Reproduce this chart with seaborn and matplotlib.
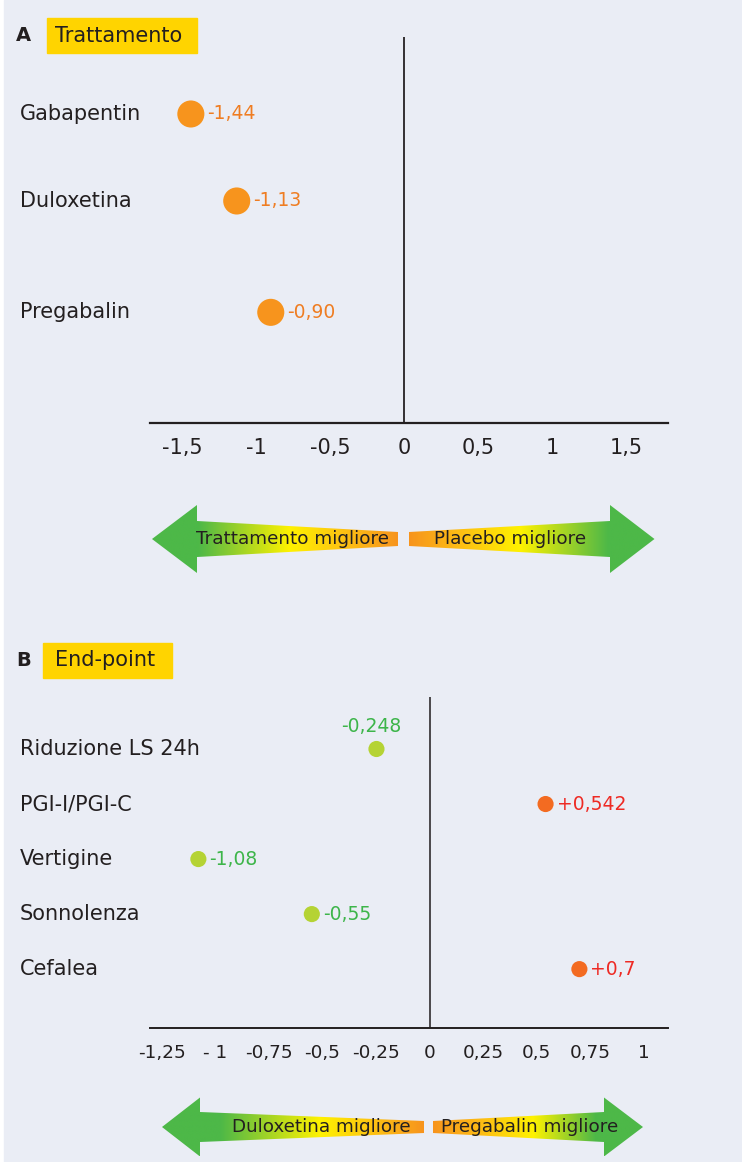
import matplotlib
matplotlib.use("Agg")
import matplotlib.pyplot as plt
from matplotlib.patches import Polygon, Rectangle
from matplotlib.colors import LinearSegmentedColormap
import numpy as np
import pandas as pd
import seaborn as sns

# Panel A: effect of each treatment versus placebo
treatments = ["Gabapentin", "Duloxetina", "Pregabalin"]
treatment_effect = [-1.44, -1.13, -0.90]
ticks_a = [-1.5, -1, -0.5, 0, 0.5, 1, 1.5]
tick_labels_a = ["-1,5", "-1", "-0,5", "0", "0,5", "1", "1,5"]

# Panel B: duloxetine versus pregabalin, by end-point
endpoints = ["Riduzione LS 24h", "PGI-I/PGI-C", "Vertigine", "Sonnolenza", "Cefalea"]
endpoint_diff = [-0.248, 0.542, -1.08, -0.55, 0.7]
ticks_b = [-1.25, -1, -0.75, -0.5, -0.25, 0, 0.25, 0.5, 0.75, 1]
tick_labels_b = ["-1,25", "- 1", "-0,75", "-0,5", "-0,25", "0", "0,25", "0,5", "0,75", "1"]

# vertical placement of the rows (row units)
row_pos_a = [0.0, 1.0, 2.28]
row_pos_b = [0, 1, 2, 3, 4]

W, H, DPI = 742, 1162, 100
BG = "#EAEDF5"
INK = "#231F20"
GREEN, YELLOW, GOLD, ORANGE = "#4DB848", "#FFF200", "#FDBE14", "#F7941D"

sns.set_style("white")
plt.rcParams["font.family"] = ["DejaVu Sans"]

fig = plt.figure(figsize=(W / DPI, H / DPI), dpi=DPI)
fig.patch.set_facecolor("white")


def frac_box(x0, y0, x1, y1):
    """Pixel box (top-left origin) -> figure fraction rect."""
    return [x0 / W, 1 - y1 / H, (x1 - x0) / W, (y1 - y0) / H]


# Full-page layer for background, headings and direction arrows (pixel units)
deco = fig.add_axes([0, 0, 1, 1])
deco.axis("off")
deco.add_patch(Rectangle((4, 0), W - 4, H, color=BG, zorder=0))


def heading(letter, title, y, box_x0, box_x1):
    deco.text(16, y, letter, fontsize=14, fontweight="bold", color=INK,
              ha="left", va="center", zorder=3)
    deco.add_patch(Rectangle((box_x0, y - 17.5), box_x1 - box_x0, 35,
                             color="#FFD400", zorder=2))
    deco.text(55, y, title, fontsize=15, color=INK, ha="left", va="center", zorder=3)


heading("A", "Trattamento", 35.5, 47, 197)
heading("B", "End-point", 660, 43, 172)


def half_arrow(tip, base, inner, cy, head_h, body_h0, body_h1, stops):
    pts = [(tip, cy), (base, cy - head_h / 2), (base, cy - body_h0 / 2),
           (inner, cy - body_h1 / 2), (inner, cy + body_h1 / 2),
           (base, cy + body_h0 / 2), (base, cy + head_h / 2)]
    poly = Polygon(pts, closed=True, facecolor="none", edgecolor="none")
    deco.add_patch(poly)
    x0, x1 = min(tip, inner), max(tip, inner)
    pos = [(x - x0) / (x1 - x0) for x, _ in stops]
    cmap = LinearSegmentedColormap.from_list("grad", list(zip(pos, [c for _, c in stops])))
    grad = np.linspace(0, 1, 512)[None, :]
    im = deco.imshow(grad, extent=(x0, x1, cy + head_h / 2, cy - head_h / 2),
                     aspect="auto", cmap=cmap, interpolation="bilinear", zorder=2)
    im.set_clip_path(poly)


# Arrows under panel A
half_arrow(152, 197, 398, 539, 68, 36, 14,
           [(152, GREEN), (198, GREEN), (290, YELLOW), (348, GOLD), (398, ORANGE)])
half_arrow(654.5, 610, 409, 539, 68, 36, 14,
           [(409, ORANGE), (460, GOLD), (520, YELLOW), (608, GREEN), (654.5, GREEN)])
deco.text(293, 539, "Trattamento migliore", fontsize=13.2, color=INK,
          ha="center", va="center", zorder=3)
deco.text(510, 539, "Placebo migliore", fontsize=13.2, color=INK,
          ha="center", va="center", zorder=3)

# Arrows under panel B
half_arrow(162, 200, 424, 1127, 59, 30, 12,
           [(162, GREEN), (220, GREEN), (320, YELLOW), (378, GOLD), (424, ORANGE)])
half_arrow(643, 604, 433, 1127, 59, 30, 12,
           [(433, ORANGE), (483, GOLD), (533, YELLOW), (596, GREEN), (643, GREEN)])
deco.text(321, 1127, "Duloxetina migliore", fontsize=13.2, color=INK,
          ha="center", va="center", zorder=3)
deco.text(530, 1127, "Pregabalin migliore", fontsize=13.2, color=INK,
          ha="center", va="center", zorder=3)

deco.set_xlim(0, W)
deco.set_ylim(H, 0)


def style_axis(ax, ticks, labels, rows, names, tick_size, line_w, pad):
    ax.set_facecolor("none")
    for side in ("top", "right", "left"):
        ax.spines[side].set_visible(False)
    ax.spines["bottom"].set_color(INK)
    ax.spines["bottom"].set_linewidth(line_w)
    ax.axvline(0, color=INK, lw=line_w * 0.8, zorder=1)
    ax.set_xticks(ticks, labels)
    ax.tick_params(axis="x", direction="out", length=5.8, width=line_w,
                   color=INK, labelcolor=INK, labelsize=tick_size, pad=pad)
    ax.set_yticks(rows, names)
    ax.tick_params(axis="y", length=0, labelsize=15, labelcolor=INK, pad=93.6)
    for lab in ax.get_yticklabels():
        lab.set_horizontalalignment("left")
        lab.set_verticalalignment("center")
    ax.set_xlabel("")
    ax.set_ylabel("")
    ax.grid(False)


# ---- Panel A ----
axA = fig.add_axes(frac_box(150, 37, 668, 423))
dfA = pd.DataFrame({"trattamento": treatments, "effetto": treatment_effect, "riga": row_pos_a})
sns.scatterplot(data=dfA, x="effetto", y="riga", ax=axA, s=380, color=ORANGE,
                edgecolor="none", legend=False, zorder=3)
axA.set_xlim(-1.716, 1.784)
axA.set_ylim(3.552, -0.885)
style_axis(axA, ticks_a, tick_labels_a, row_pos_a, treatments, 15, 1.6, 5)
for v, y in zip(treatment_effect, row_pos_a):
    axA.annotate(f"{v:.2f}".replace(".", ","), xy=(v, y), xytext=(12, 0),
                 textcoords="offset points", ha="left", va="center",
                 color="#EF7D22", fontsize=13.5)

# ---- Panel B ----
axB = fig.add_axes(frac_box(150, 697, 668, 1028))
dfB = pd.DataFrame({
    "endpoint": endpoints,
    "differenza": endpoint_diff,
    "riga": row_pos_b,
    "favorisce": ["Duloxetina" if v < 0 else "Pregabalin" for v in endpoint_diff],
})
dot_colors = {"Duloxetina": "#B5D334", "Pregabalin": "#F36B21"}
text_colors = {"Duloxetina": "#3DB54A", "Pregabalin": "#EE2A24"}
sns.scatterplot(data=dfB, x="differenza", y="riga", hue="favorisce", palette=dot_colors,
                ax=axB, s=135, edgecolor="none", legend=False, zorder=3)
axB.set_xlim(-1.306, 1.114)
axB.set_ylim(5.07, -0.945)
style_axis(axB, ticks_b, tick_labels_b, row_pos_b, endpoints, 13.3, 1.4, 6)
for v, y, grp in zip(endpoint_diff, row_pos_b, dfB["favorisce"]):
    txt = f"{v:+g}".replace(".", ",")
    if -0.35 < v < 0:
        # short negative values sit next to the zero line: label above the dot
        axB.annotate(txt, xy=(v, y), xytext=(-3.5, 16), textcoords="offset points",
                     ha="center", va="center", color=text_colors[grp], fontsize=13.5)
    else:
        axB.annotate(txt, xy=(v, y), xytext=(8, 0), textcoords="offset points",
                     ha="left", va="center", color=text_colors[grp], fontsize=13.5)

fig.savefig("out.png", dpi=DPI, facecolor=fig.get_facecolor())
